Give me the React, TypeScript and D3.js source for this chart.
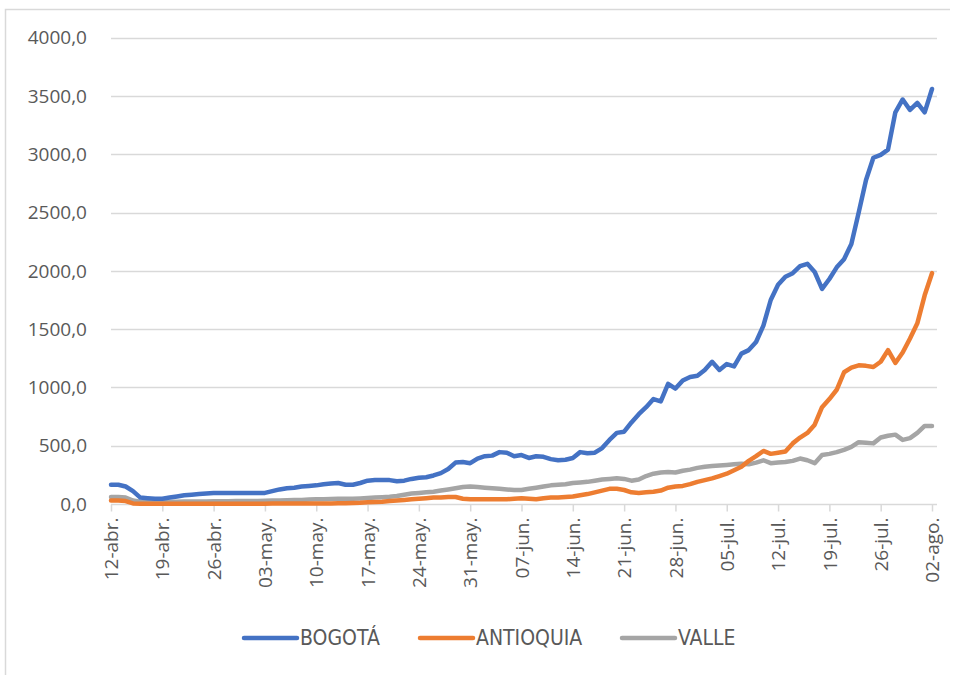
import * as d3 from "d3";
import { useEffect, useRef } from "react";

// daily values, 12-abr. .. 02-ago. (113 days)
const bogota = [
  165, 165, 150, 110, 55, 50, 45, 45, 55, 65, 75, 80, 85, 90, 95, 95, 95, 95, 95, 95,
  95, 95, 110, 125, 135, 140, 150, 155, 160, 170, 175, 180, 165, 165, 180, 200, 205, 205, 205, 195,
  200, 215, 225, 230, 245, 265, 300, 355, 360, 350, 390, 410, 415, 445, 440, 410, 420, 395, 410, 405,
  385, 375, 380, 395, 445, 435, 440, 480, 550, 610, 620, 700, 770, 830, 900, 880, 1030, 990, 1060, 1090,
  1100, 1150, 1220, 1150, 1200, 1180, 1290, 1320, 1390, 1530, 1750, 1880, 1950, 1980, 2040, 2060, 1990, 1845, 1930, 2030,
  2100, 2230, 2500, 2780, 2970, 2995, 3040, 3360, 3470, 3380, 3440, 3360, 3560,
];

const antioquia = [
  30, 30, 25, 5, 3, 3, 2, 2, 2, 2, 2, 2, 2, 2, 3, 3, 3, 3, 3, 3,
  3, 3, 4, 4, 4, 4, 5, 5, 5, 5, 5, 6, 6, 8, 10, 15, 18, 20, 25, 30,
  35, 40, 45, 50, 55, 55, 60, 60, 45, 40, 40, 40, 40, 40, 40, 45, 50, 45, 40, 50,
  55, 55, 60, 65, 75, 85, 100, 115, 130, 130, 120, 100, 95, 100, 105, 115, 140, 150, 155, 170,
  190, 205, 220, 240, 260, 290, 320, 370, 410, 455, 430, 440, 450, 520, 570, 610, 680, 830, 900, 980,
  1130, 1170, 1190, 1185, 1175, 1220, 1320, 1210, 1300, 1420, 1550, 1790, 1980,
];

const valle = [
  60, 60, 55, 30, 20, 20, 15, 18, 20, 20, 22, 22, 22, 22, 24, 24, 24, 25, 25, 25,
  25, 28, 30, 30, 32, 35, 35, 38, 40, 40, 42, 44, 45, 45, 48, 52, 55, 58, 62, 68,
  80, 90, 95, 100, 105, 115, 125, 135, 145, 150, 145, 140, 135, 130, 125, 120, 120, 130, 140, 150,
  160, 165, 170, 180, 185, 190, 200, 210, 215, 220, 215, 200, 210, 240, 260, 270, 275, 270, 285, 295,
  310, 320, 325, 330, 335, 340, 345, 340, 355, 375, 350, 355, 360, 370, 390, 375, 350, 420, 430, 445,
  465, 490, 530, 525, 520, 570, 585, 595, 550, 565, 610, 670, 670,
];

const tickLabels = [
  "12-abr.", "19-abr.", "26-abr.", "03-may.", "10-may.", "17-may.", "24-may.", "31-may.", "07-jun.",
  "14-jun.", "21-jun.", "28-jun.", "05-jul.", "12-jul.", "19-jul.", "26-jul.", "02-ago.",
];

const yTicks = [0, 500, 1000, 1500, 2000, 2500, 3000, 3500, 4000];

const seriesNames = ["BOGOTÁ", "ANTIOQUIA", "VALLE"];
const seriesColors = ["#4472C4", "#ED7D31", "#A5A5A5"];

const App = () => {
  const svgRef = useRef<SVGSVGElement | null>(null);

  useEffect(() => {
    const width = 955;
    const height = 675;
    const svg = d3.select(svgRef.current);
    svg.selectAll("*").remove();
    svg.attr("width", width).attr("height", height);

    // outer chart border (left + top only visible)
    svg
      .append("path")
      .attr("d", "M5.5,675 V9.5 H950")
      .style("fill", "none")
      .style("stroke", "#d9d9d9")
      .style("stroke-width", "1.5px");

    const x = d3.scaleLinear().domain([0, 112]).range([111, 932]);
    const y = d3.scaleLinear().domain([0, 4000]).range([504, 37.7]);

    const font = "'Open Sans', 'DejaVu Sans', sans-serif";

    // gridlines
    svg
      .append("g")
      .selectAll("line")
      .data(yTicks.slice(1))
      .enter()
      .append("line")
      .attr("x1", 111)
      .attr("x2", 937)
      .attr("y1", (d) => Math.round(y(d)) + 0.5)
      .attr("y2", (d) => Math.round(y(d)) + 0.5)
      .style("stroke", "#d9d9d9")
      .style("stroke-width", "1.5px");

    // y labels
    svg
      .append("g")
      .selectAll("text")
      .data(yTicks)
      .enter()
      .append("text")
      .attr("x", 87)
      .attr("y", (d) => y(d))
      .attr("dy", "0.35em")
      .attr("text-anchor", "end")
      .style("font-family", font)
      .style("font-size", "19px")
      .style("fill", "#595959")
      .text((d) => d3.format(".1f")(d).replace(".", ","));

    // x axis
    const xAxis = svg
      .append("g")
      .attr("transform", `translate(0, ${Math.round(y(0)) + 0.5})`)
      .call(
        d3
          .axisBottom(x)
          .tickValues(d3.range(0, 113, 7))
          .tickSize(7)
          .tickPadding(6)
          .tickFormat((_d, i) => tickLabels[i])
      );
    xAxis.select(".domain").attr("d", "M111,0H937").style("stroke", "#d9d9d9").style("stroke-width", "1.5px");
    xAxis.selectAll(".tick line").style("stroke", "#d9d9d9").style("stroke-width", "1.5px");
    xAxis
      .selectAll<SVGTextElement, number>(".tick text")
      .attr("transform", "rotate(-90)")
      .attr("x", -13)
      .attr("y", 0)
      .attr("dy", "0.35em")
      .attr("text-anchor", "end")
      .style("font-family", font)
      .style("font-size", "19px")
      .style("fill", "#595959");

    // lines
    const line = d3
      .line<number>()
      .x((_d, i) => x(i))
      .y((d) => y(d));

    const allSeries = [bogota, antioquia, valle];
    // draw valle first, then antioquia, bogota on top
    [2, 1, 0].forEach((k) => {
      svg
        .append("path")
        .datum(allSeries[k])
        .attr("d", line)
        .style("fill", "none")
        .style("stroke", seriesColors[k])
        .style("stroke-width", "4.5px")
        .style("stroke-linejoin", "round")
        .style("stroke-linecap", "round");
    });

    // legend
    const legendX = [244, 420, 622];
    const legend = svg.append("g");
    seriesNames.forEach((name, k) => {
      legend
        .append("line")
        .attr("x1", legendX[k])
        .attr("x2", legendX[k] + 53)
        .attr("y1", 638)
        .attr("y2", 638)
        .style("stroke", seriesColors[k])
        .style("stroke-width", "4.5px")
        .style("stroke-linecap", "round");
      legend
        .append("text")
        .attr("x", legendX[k] + 56)
        .attr("y", 638)
        .attr("dy", "0.35em")
        .style("font-family", "'Liberation Sans Narrow', 'DejaVu Sans Condensed', sans-serif")
        .style("font-size", "21px")
        .style("fill", "#595959")
        .text(name);
    });
  }, []);

  return (
    <div style={{ position: "absolute", left: 0, top: 0 }}>
      <svg ref={svgRef} style={{ display: "block" }} />
    </div>
  );
};

export default App;
